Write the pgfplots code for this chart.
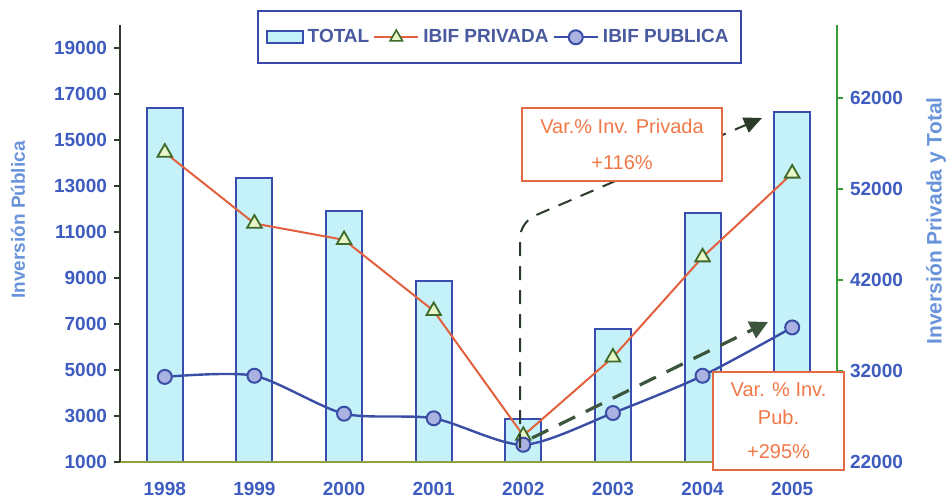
\documentclass[border=0pt]{standalone}
\usepackage{fontspec}
\setmainfont{Liberation Sans}
\usepackage{pgfplots}
\pgfplotsset{compat=1.18}
\usetikzlibrary{arrows.meta}

\definecolor{barfill}{HTML}{C4F2F8}
\definecolor{bardraw}{HTML}{3A4CB0}
\definecolor{privred}{HTML}{E2603E}
\definecolor{trifill}{HTML}{E8F6C8}
\definecolor{tridraw}{HTML}{3E6A2A}
\definecolor{publine}{HTML}{3A4EA6}
\definecolor{pubfill}{HTML}{AAB2E2}
\definecolor{tickblue}{HTML}{3E5CC0}
\definecolor{labelblue}{HTML}{6A94DA}
\definecolor{legtext}{HTML}{4A5A9E}
\definecolor{legdraw}{HTML}{3A48A8}
\definecolor{axisdark}{HTML}{2E3A2A}
\definecolor{axisgreen}{HTML}{3A9A3A}
\definecolor{axisolive}{HTML}{8FA040}
\definecolor{boxorange}{HTML}{E46A44}
\definecolor{textorange}{HTML}{F07848}
\definecolor{dashgreen}{HTML}{3C553C}

% total y privada (eje derecho)
\pgfplotstableread{
x  total  privada
0  60900  56000
1  53200  48200
2  49600  46400
3  41900  38600
4  26700  24900
5  36600  33500
6  49400  44500
7  60400  53700
}\datader
% publica (eje izquierdo)
\pgfplotstableread{
x  publica
0  4700
1  4750
2  3100
3  2900
4  1750
5  3130
6  4750
7  6850
}\datapub

\pgfplotsset{
  base/.style={
    scale only axis, width=358.5pt, height=218.5pt,
    at={(60pt,19pt)}, anchor=south west,
    xmin=-0.5, xmax=7.5,
    tick align=outside, major tick length=3pt,
    tick label style={font=\bfseries\fontsize{9.5}{11}\selectfont, text=tickblue},
    yticklabel style={/tikz/color=tickblue, text=tickblue},
    /pgf/number format/assume math mode=true,
    /pgf/number format/1000 sep={},
    scaled y ticks=false,
  }
}

\begin{document}
\begin{tikzpicture}
\useasboundingbox (0,0) rectangle (474pt,250pt);

\begin{axis}[base,
    axis x line=none, axis y line*=right,
    y axis line style={-, axisgreen, line width=0.9pt},
    ytick style={axisgreen, line width=0.8pt},
    yticklabel style={/tikz/color=tickblue, text=tickblue},
    ymin=22000, ymax=70000,
    ytick={22000,32000,42000,52000,62000},
  ]
  \addplot[ybar, bar width=18pt, fill=barfill, draw=bardraw, line width=1pt]
    table[x=x, y=total] {\datader};
  \addplot[privred, line width=1pt, mark=triangle*, mark size=4.2pt,
    mark options={fill=trifill, draw=tridraw, line width=0.9pt}]
    table[x=x, y=privada] {\datader};
\end{axis}

\begin{axis}[base,
    axis y line*=left, axis x line*=bottom,
    x axis line style={-, axisolive, line width=1pt},
    y axis line style={-, axisdark, line width=1pt},
    ytick style={axisdark, line width=0.8pt},
    xtick style={draw=none},
    ymin=1000, ymax=20000,
    ytick={1000,3000,...,19000},
    xtick={0,1,2,3,4,5,6,7},
    xticklabels={1998,1999,2000,2001,2002,2003,2004,2005},
    xticklabel style={yshift=-3.5pt},
    legend columns=3,
    legend style={at={(0.191,1.034)}, anchor=north west,
      draw=legdraw, line width=1pt, fill=white,
      font=\bfseries\fontsize{9.5}{11}\selectfont, text=legtext,
      inner xsep=4pt, inner ysep=7pt},
    legend image code/.code={\draw[mark repeat=2, mark phase=2, #1]
      plot coordinates {(0pt,0pt) (11pt,0pt) (22pt,0pt)};},
  ]
  \addlegendimage{legend image code/.code={\draw[fill=barfill, draw=bardraw, line width=0.9pt] (0pt,-3pt) rectangle (18pt,3pt);}}
  \addlegendentry{TOTAL}
  \addlegendimage{privred, line width=1pt, mark=triangle*, mark size=3.6pt,
    mark options={fill=trifill, draw=tridraw, line width=0.8pt}}
  \addlegendentry{IBIF PRIVADA}
  \addplot[publine, line width=1.2pt, smooth, tension=0.45, mark=*, mark size=3.5pt,
    mark options={fill=pubfill, draw=publine, line width=1pt}]
    table[x=x, y=publica] {\datapub};
  \addlegendentry{IBIF PUBLICA}
\end{axis}

% anotaciones en coordenadas de pixel
\begin{scope}[x=0.5pt, y=-0.5pt, shift={(0pt,250pt)}]
  \node[rotate=90, text=labelblue, font=\bfseries\fontsize{9.5}{11}\selectfont]
    at (18,220) {Inversión Pública};
  \node[rotate=90, text=labelblue, font=\bfseries\fontsize{10.5}{12}\selectfont]
    at (936,221) {Inversión Privada y Total};

  \draw[dashgreen!70!black, line width=1pt, dash pattern=on 7pt off 5pt,
    rounded corners=8pt, -{Triangle[length=9pt,width=8pt]}]
    (520,448) -- (520,222) -- (762,118);
  \draw[dashgreen, line width=1.6pt, dash pattern=on 9pt off 6pt,
    -{Triangle[length=9pt,width=9pt]}]
    (532,438) -- (768,322);

  \node[draw=boxorange, line width=1pt, fill=white, minimum width=100pt,
    minimum height=36.5pt, align=center, text=textorange,
    font=\fontsize{10}{18}\selectfont] at (622,144.5)
    {Var.\% Inv. Privada\\+116\%};
  \node[draw=boxorange, line width=1pt, fill=white, minimum width=65.5pt,
    minimum height=49pt, align=center, text=textorange,
    font=\fontsize{10}{14}\selectfont] at (778.5,421)
    {Var. \% Inv.\\Pub.\\[3pt]+295\%};
\end{scope}
\end{tikzpicture}
\end{document}
